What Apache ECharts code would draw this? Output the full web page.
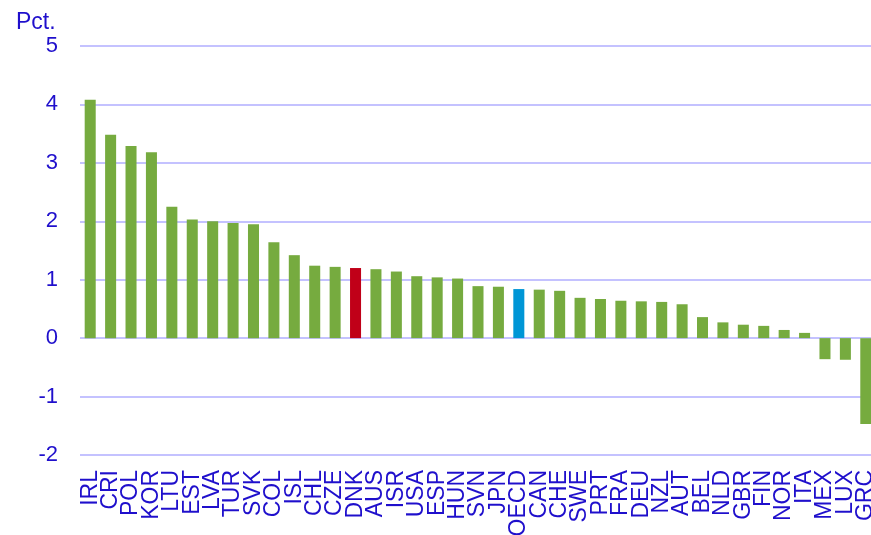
<!DOCTYPE html>
<html>
<head>
<meta charset="utf-8">
<script src="https://cdn.jsdelivr.net/npm/echarts@6/dist/echarts.min.js"></script>
<style>
  html, body { margin: 0; padding: 0; background: #fff; }
  #chart { width: 871px; height: 535px; }
</style>
</head>
<body>
<div id="chart"></div>
<script>
const countries = ['IRL', 'CRI', 'POL', 'KOR', 'LTU', 'EST', 'LVA', 'TUR', 'SVK', 'COL',
  'ISL', 'CHL', 'CZE', 'DNK', 'AUS', 'ISR', 'USA', 'ESP', 'HUN', 'SVN',
  'JPN', 'OECD', 'CAN', 'CHE', 'SWE', 'PRT', 'FRA', 'DEU', 'NZL', 'AUT',
  'BEL', 'NLD', 'GBR', 'FIN', 'NOR', 'ITA', 'MEX', 'LUX', 'GRC']
const growth = [4.08, 3.48, 3.29, 3.18, 2.25, 2.03, 2.0, 1.97, 1.95, 1.64,
  1.42, 1.24, 1.22, 1.2, 1.18, 1.14, 1.06, 1.04, 1.02, 0.89,
  0.88, 0.84, 0.83, 0.81, 0.69, 0.67, 0.64, 0.63, 0.62, 0.58,
  0.36, 0.27, 0.23, 0.21, 0.14, 0.09, -0.36, -0.37, -1.47]
const highlight = { DNK: '#c00018', OECD: '#0096d6' }

const textBlue = '#1f0fcc'
const green = '#76ab3f'

const chart = echarts.init(document.getElementById('chart'))
chart.setOption({
  animation: false,
  title: {
    text: 'Pct.',
    left: 11,
    top: 6,
    textStyle: { color: textBlue, fontSize: 23, fontWeight: 'normal', fontFamily: 'Liberation Sans' }
  },
  // plot area runs a few px past the right edge, like the cropped original
  grid: {
    left: 80,
    width: 796,
    top: 46,
    bottom: 80,
    outerBoundsMode: 'none'
  },
  xAxis: {
    type: 'category',
    data: countries,
    axisLine: { show: false, onZero: false },
    axisTick: { show: false },
    axisLabel: {
      rotate: 90,
      interval: 0,
      margin: 15,
      color: textBlue,
      fontSize: 23,
      fontFamily: 'Liberation Sans'
    }
  },
  yAxis: {
    type: 'value',
    min: -2,
    max: 5,
    interval: 1,
    axisLine: { show: false },
    axisTick: { show: false },
    axisLabel: {
      margin: 22,
      color: textBlue,
      fontSize: 22,
      fontFamily: 'Liberation Sans'
    },
    splitLine: { lineStyle: { color: '#c4c2ff', width: 2 } }
  },
  series: [{
    type: 'bar',
    barWidth: '54%',
    data: growth.map((v, i) => ({
      value: v,
      itemStyle: { color: highlight[countries[i]] || green }
    }))
  }]
})
</script>
</body>
</html>
